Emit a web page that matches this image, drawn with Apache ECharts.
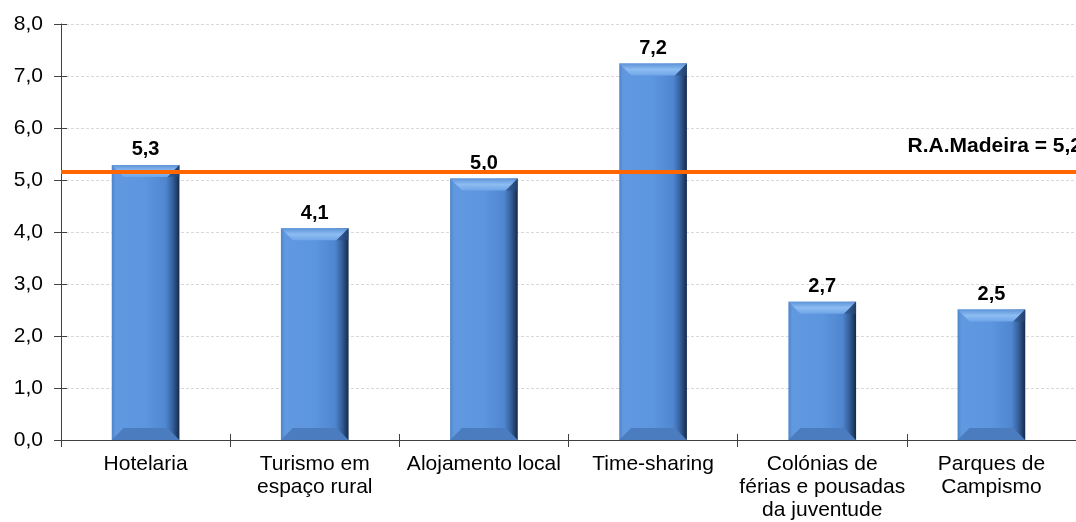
<!DOCTYPE html>
<html>
<head>
<meta charset="utf-8">
<script src="https://cdn.jsdelivr.net/npm/echarts@6/dist/echarts.min.js"></script>
<style>
  html, body { margin: 0; padding: 0; background: #fff; }
  #chart { width: 1076px; height: 522px; }
</style>
</head>
<body>
<div id="chart"></div>
<script>
// categories and values
var categories = ['Hotelaria', 'Turismo em\nespaço rural', 'Alojamento local', 'Time-sharing', 'Colónias de\nférias e pousadas\nda juventude', 'Parques de\nCampismo']
var values = [5.29, 4.07, 5.03, 7.24, 2.66, 2.51]
var regionName = 'R.A.Madeira'
var regionValue = 5.16
var yTicks = [0, 1, 2, 3, 4, 5, 6, 7, 8]

function fmt (v) {
  return v.toFixed(1).replace('.', ',')
}

var font = '"Liberation Sans", Arial, sans-serif'

var bodyColor = new echarts.graphic.LinearGradient(0, 0, 1, 0, [
  { offset: 0, color: '#4f84c9' },
  { offset: 0.06, color: '#6199e0' },
  { offset: 0.5, color: '#5c96df' },
  { offset: 0.8, color: '#4f86cf' },
  { offset: 0.9, color: '#35609c' },
  { offset: 1, color: '#15294a' }
])

// top / bottom bevels of the bars, placed with the axis scales
function renderBevel (params, api) {
  var cat = api.value(0)
  var val = api.value(1)
  var top = api.coord([cat, val])
  var base = api.coord([cat, 0])
  var w = api.size([1, 0])[0] * 0.4
  var l = top[0] - w / 2
  var r = top[0] + w / 2
  var b = 12
  return {
    type: 'group',
    children: [
      {
        type: 'polygon',
        shape: { points: [[l, top[1]], [r, top[1]], [r - b, top[1] + b], [l + b, top[1] + b]] },
        style: {
          fill: new echarts.graphic.LinearGradient(0, 0, 0, 1, [
            { offset: 0, color: '#5d93d8' },
            { offset: 0.5, color: '#8dbcf2' },
            { offset: 1, color: '#6fa5e8' }
          ])
        }
      },
      {
        type: 'polygon',
        shape: { points: [[r, top[1]], [r, top[1] + b], [r - b, top[1] + b]] },
        style: { fill: '#2c4f80', opacity: 0.6 }
      },
      {
        type: 'polygon',
        shape: { points: [[l, base[1]], [r, base[1]], [r - b, base[1] - b], [l + b, base[1] - b]] },
        style: { fill: '#4a7cbf' }
      }
    ]
  }
}

var myChart = echarts.init(document.getElementById('chart'), null, { renderer: 'canvas' })
myChart.setOption({
  animation: false,
  backgroundColor: '#fff',
  grid: {
    left: 61,
    right: 0,
    top: 24,
    bottom: 82,
    containLabel: false
  },
  xAxis: [
    {
      type: 'category',
      data: categories,
      axisLine: { lineStyle: { color: '#404040', width: 1 } },
      axisTick: { show: true, length: 7, lineStyle: { color: '#404040' } },
      axisLabel: {
        color: '#000',
        fontFamily: font,
        fontSize: 21,
        lineHeight: 23,
        margin: 13,
        interval: 0
      },
      splitLine: { show: false }
    },
    {
      type: 'category',
      data: categories,
      position: 'bottom',
      axisLine: { show: false, onZero: false },
      axisTick: { show: true, inside: true, length: 6, lineStyle: { color: '#404040' } },
      axisLabel: { show: false },
      splitLine: { show: false }
    }
  ],
  yAxis: [
    {
      type: 'value',
      min: yTicks[0],
      max: yTicks[yTicks.length - 1],
      interval: 1,
      axisLine: { show: true, lineStyle: { color: '#404040', width: 1 } },
      axisTick: { show: true, length: 7, lineStyle: { color: '#404040' } },
      axisLabel: {
        color: '#000',
        fontFamily: font,
        fontSize: 21,
        margin: 18,
        formatter: function (v) { return fmt(v) }
      },
      splitLine: { show: true, lineStyle: { color: '#d9d9d9', type: [3, 2], width: 1 } }
    },
    {
      type: 'value',
      min: yTicks[0],
      max: yTicks[yTicks.length - 1],
      interval: 1,
      position: 'left',
      axisLine: { show: false, onZero: false },
      axisTick: { show: true, inside: true, length: 6, lineStyle: { color: '#404040' } },
      axisLabel: { show: false },
      splitLine: { show: false }
    }
  ],
  series: [
    {
      name: 'values',
      type: 'bar',
      data: values,
      barWidth: '40%',
      z: 2,
      itemStyle: { color: bodyColor },
      label: {
        show: true,
        position: 'top',
        distance: 5,
        color: '#000',
        fontFamily: font,
        fontSize: 20,
        fontWeight: 'bold',
        formatter: function (p) { return fmt(p.value) }
      },
      markLine: {
        silent: true,
        symbol: 'none',
        lineStyle: { color: '#ff6600', width: 4, type: 'solid' },
        label: {
          show: true,
          position: 'insideEndTop',
          offset: [11, -10],
          color: '#000',
          fontFamily: font,
          fontSize: 21,
          fontWeight: 'bold',
          formatter: regionName + ' = ' + fmt(regionValue)
        },
        data: [{ yAxis: regionValue }]
      }
    },
    {
      name: 'bevel',
      type: 'custom',
      z: 3,
      silent: true,
      renderItem: renderBevel,
      data: values.map(function (v, i) { return [i, v] })
    }
  ]
})
</script>
</body>
</html>
